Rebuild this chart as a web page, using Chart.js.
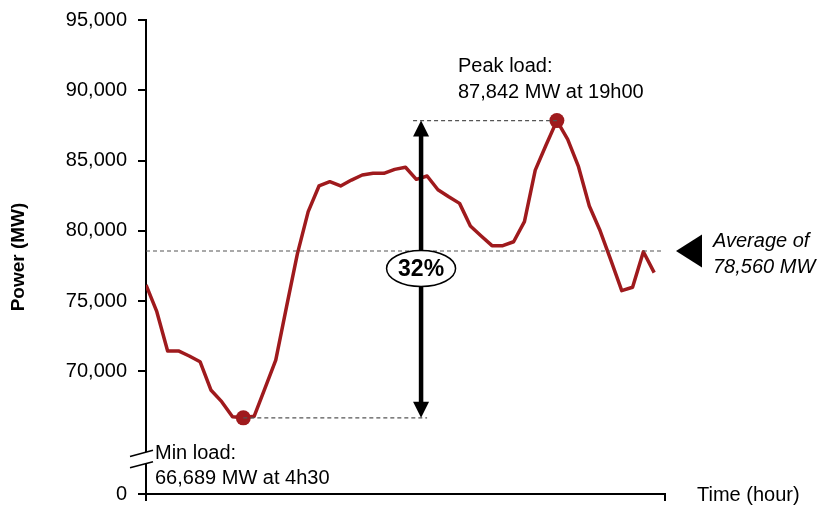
<!DOCTYPE html>
<html><head><meta charset="utf-8">
<script src="https://cdn.jsdelivr.net/npm/chart.js@4/dist/chart.umd.min.js"></script>
<style>html,body{margin:0;padding:0;background:#fff}#wrap{width:827px;height:505px;position:relative}</style>
</head><body><div id="wrap"><canvas id="c" width="827" height="505"></canvas></div>
<script>
// ---- data ----
const hours = [0,0.5,1,1.5,2,2.5,3,3.5,4,4.5,5,5.5,6,6.5,7,7.5,8,8.5,9,9.5,10,10.5,11,11.5,
               12,12.5,13,13.5,14,14.5,15,15.5,16,16.5,17,17.5,18,18.5,19,19.5,20,20.5,21,21.5,22,22.5,23,23.5];
const powerMW = [76150,74240,71450,71450,71090,70680,68670,67840,66770,66689,66800,68790,
                 70800,74600,78360,81360,83190,83490,83190,83610,83970,84090,84090,84370,
                 84520,83660,83900,82920,82420,81950,80340,79630,78940,78940,79220,80650,
                 84320,86100,87842,86510,84560,81760,80000,77900,75740,75980,78510,77020];
const yTickValues = [70000,75000,80000,85000,90000,95000];
const yBottomValue = 61268;          // axis foot, labelled "0" (broken axis)
const yBreakValue = 63760;           // where the axis break is drawn
const xMax = 24;
const averageMW = 78560;
const peakMW = 87842, peakHour = 19;
const minMW = 66689, minHour = 4.5;
const spreadHour = 12.72;            // where the double arrow stands
const peakText = ['Peak load:', '87,842 MW at 19h00'];
const minText = ['Min load:', '66,689 MW at 4h30'];
const avgText = ['Average of', '78,560 MW'];
const spreadText = '32%';
const xTitle = 'Time (hour)';
const yTitle = 'Power (MW)';

const RED = '#9f1a1d';
const FONT = '"Liberation Sans", Arial, Helvetica, sans-serif';
const peakIdx = hours.indexOf(peakHour), minIdx = hours.indexOf(minHour);

function dashed(ctx, x1, y1, x2, y2) {
  ctx.save();
  ctx.strokeStyle = '#555'; ctx.lineWidth = 1.2; ctx.setLineDash([4, 3]);
  ctx.beginPath(); ctx.moveTo(x1, y1); ctx.lineTo(x2, y2); ctx.stroke();
  ctx.restore();
}

const annot = {
  id: 'annot',
  afterDraw(chart) {
    const ctx = chart.ctx, xs = chart.scales.x, ys = chart.scales.y, ca = chart.chartArea;
    const yAvg = ys.getPixelForValue(averageMW);
    const yPk = ys.getPixelForValue(peakMW), yMn = ys.getPixelForValue(minMW);
    const xPk = xs.getPixelForValue(peakHour), xMn = xs.getPixelForValue(minHour);
    const xA = xs.getPixelForValue(spreadHour);
    // reference lines
    dashed(ctx, ca.left, yAvg, ca.right - 2, yAvg);
    dashed(ctx, xA - 8, yPk, xPk, yPk);
    dashed(ctx, xMn, yMn, xA + 6, yMn);
    // double arrow
    ctx.save();
    ctx.fillStyle = '#000'; ctx.strokeStyle = '#000';
    ctx.lineWidth = 4.5;
    ctx.beginPath(); ctx.moveTo(xA, yPk + 14); ctx.lineTo(xA, yMn - 14); ctx.stroke();
    ctx.beginPath(); ctx.moveTo(xA, yPk); ctx.lineTo(xA - 8, yPk + 16); ctx.lineTo(xA + 8, yPk + 16); ctx.closePath(); ctx.fill();
    ctx.beginPath(); ctx.moveTo(xA, yMn); ctx.lineTo(xA - 8, yMn - 16); ctx.lineTo(xA + 8, yMn - 16); ctx.closePath(); ctx.fill();
    // ellipse with percentage
    const ey = yAvg + 17.5;
    ctx.beginPath(); ctx.ellipse(xA, ey, 34.5, 18, 0, 0, Math.PI * 2);
    ctx.fillStyle = '#fff'; ctx.fill();
    ctx.lineWidth = 1.5; ctx.strokeStyle = '#000'; ctx.stroke();
    ctx.fillStyle = '#000'; ctx.font = 'bold 23px ' + FONT;
    ctx.textAlign = 'center'; ctx.textBaseline = 'middle';
    ctx.fillText(spreadText, xA, ey + 1);
    // average marker triangle
    ctx.beginPath(); ctx.moveTo(676, yAvg); ctx.lineTo(702, yAvg - 16.5); ctx.lineTo(702, yAvg + 16.5); ctx.closePath(); ctx.fill();
    // texts
    ctx.textAlign = 'left'; ctx.textBaseline = 'alphabetic';
    ctx.font = 'italic 20px ' + FONT;
    ctx.fillText(avgText[0], 713, 246.5);
    ctx.fillText(avgText[1], 713, 272.5);
    ctx.font = '20px ' + FONT;
    ctx.fillText(peakText[0], 458, 71.5);
    ctx.fillText(peakText[1], 458, 97.5);
    ctx.fillText(minText[0], 155, 458.5);
    ctx.fillText(minText[1], 155, 483.5);
    ctx.fillText(xTitle, 697, 501);
    // axis break
    const yb = ys.getPixelForValue(yBreakValue), xl = ca.left;
    ctx.fillStyle = '#fff';
    ctx.beginPath();
    ctx.moveTo(xl - 16, yb - 2.5); ctx.lineTo(xl + 7, yb - 8.8);
    ctx.lineTo(xl + 7, yb + 2.7); ctx.lineTo(xl - 16, yb + 8.8); ctx.closePath(); ctx.fill();
    ctx.strokeStyle = '#000'; ctx.lineWidth = 1.5;
    ctx.beginPath(); ctx.moveTo(xl - 16, yb - 2.5); ctx.lineTo(xl + 7, yb - 8.8); ctx.stroke();
    ctx.beginPath(); ctx.moveTo(xl - 16, yb + 8.8); ctx.lineTo(xl + 7, yb + 2.7); ctx.stroke();
    ctx.restore();
  }
};

new Chart(document.getElementById('c'), {
  type: 'line',
  data: {
    datasets: [{
      data: hours.map((h, i) => ({ x: h, y: powerMW[i] })),
      borderColor: RED, borderWidth: 3.5, tension: 0, fill: false,
      borderJoinStyle: 'round',
      pointRadius: c => (c.dataIndex === peakIdx || c.dataIndex === minIdx) ? 7.5 : 0,
      pointBackgroundColor: RED, pointBorderWidth: 0, pointHoverRadius: 0
    }]
  },
  options: {
    responsive: false, animation: false, devicePixelRatio: 1,
    layout: { autoPadding: false, padding: { left: 0, top: 20, right: 162, bottom: 0 } },
    plugins: { legend: { display: false }, tooltip: { enabled: false } },
    scales: {
      x: {
        type: 'linear', min: 0, max: xMax,
        afterBuildTicks: s => { s.ticks = [{ value: 0 }, { value: xMax }]; },
        ticks: { display: false },
        grid: { drawOnChartArea: false, tickLength: 7, color: '#000', lineWidth: 2 },
        border: { color: '#000', width: 2 },
        afterFit: s => { s.height = 11; s.paddingLeft = 0; s.paddingRight = 0; }
      },
      y: {
        type: 'linear', min: yBottomValue, max: 95000,
        afterBuildTicks: s => { s.ticks = [yBottomValue, ...yTickValues].map(v => ({ value: v })); },
        ticks: {
          color: '#000', padding: 11, font: { family: FONT, size: 20 },
          callback: v => v === yBottomValue ? '0' : v.toLocaleString('en-US')
        },
        grid: { drawOnChartArea: false, tickLength: 8, color: '#000', lineWidth: 2 },
        border: { color: '#000', width: 2 },
        title: { display: true, text: yTitle, color: '#000', font: { family: FONT, size: 19, weight: 'bold' }, padding: { top: 7, bottom: 0 } },
        afterFit: s => { s.width = 146; s.paddingTop = 0; s.paddingBottom = 0; }
      }
    }
  },
  plugins: [annot]
});
</script></body></html>
